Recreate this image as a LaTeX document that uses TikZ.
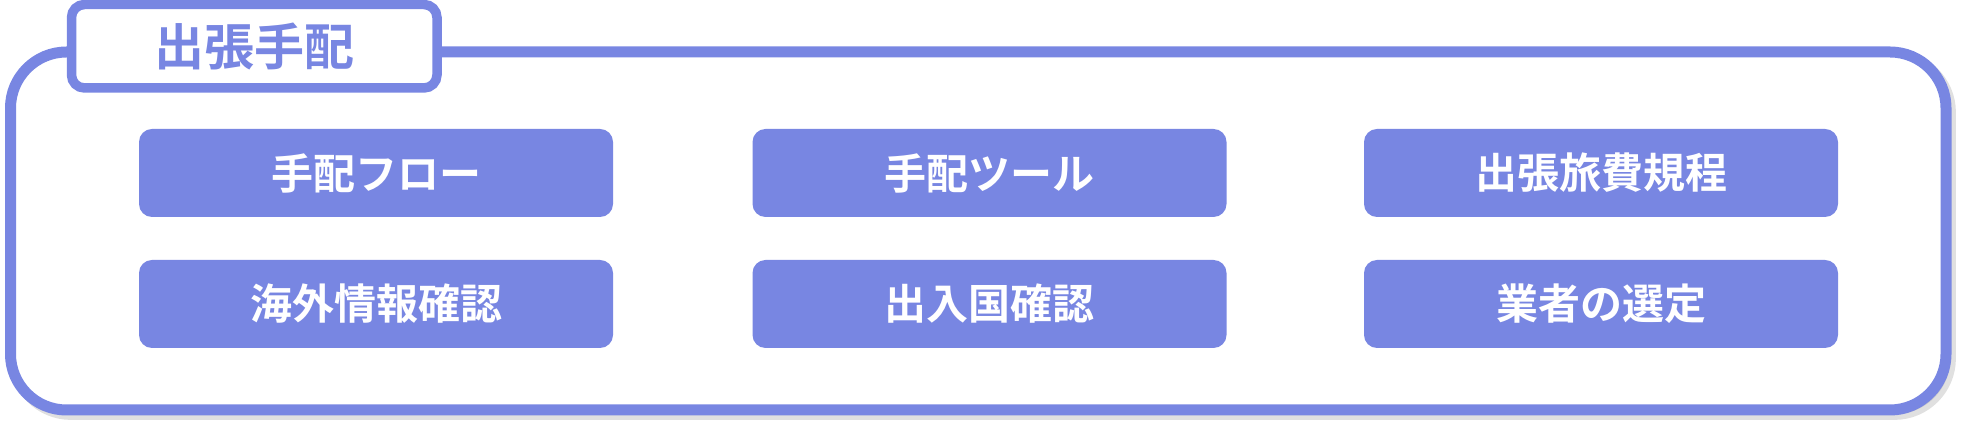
\documentclass[tikz,border=0pt]{standalone}
\usepackage{fontspec}
\setmainfont{Noto Sans CJK JP}[BoldFont={Noto Sans CJK JP Bold}]
\usetikzlibrary{shadows}
\definecolor{tripblue}{RGB}{120,134,226}
\begin{document}
\begin{tikzpicture}[x=0.5pt, y=-0.5pt,
    item/.style={fill=tripblue, rounded corners=6.5pt, inner sep=0pt,
      minimum width=237pt, minimum height=44pt, text=white,
      font=\fontsize{21pt}{25pt}\selectfont\bfseries}]
    \useasboundingbox (0, 0) rectangle (1966, 431);
    \node [draw=tripblue, fill=white, line width=5.5pt, rounded corners=28pt,
      minimum width=967.75pt, minimum height=179pt, inner sep=0pt,
      drop shadow={shadow xshift=2.2pt, shadow yshift=-2.2pt, draw=black!35,
        fill=black!35, line width=5.5pt, opacity=0.35}] (frame) at (978.25, 231) {};
    \node [draw=tripblue, fill=white, line width=4.75pt, rounded corners=6.5pt,
      minimum width=182.75pt, minimum height=41.75pt, inner sep=0pt, text=tripblue,
      font=\fontsize{25pt}{30pt}\selectfont\bfseries] (title) at (254.25, 46.25) {出張手配};
    \node [item] (flow) at (376, 173) {手配フロー};
    \node [item] (tool) at (989.5, 173) {手配ツール};
    \node [item] (rule) at (1601, 173) {出張旅費規程};
    \node [item] (abroad) at (376, 304) {海外情報確認};
    \node [item] (entry) at (989.5, 304) {出入国確認};
    \node [item] (agent) at (1601, 304) {業者の選定};
  \end{tikzpicture}
\end{document}
